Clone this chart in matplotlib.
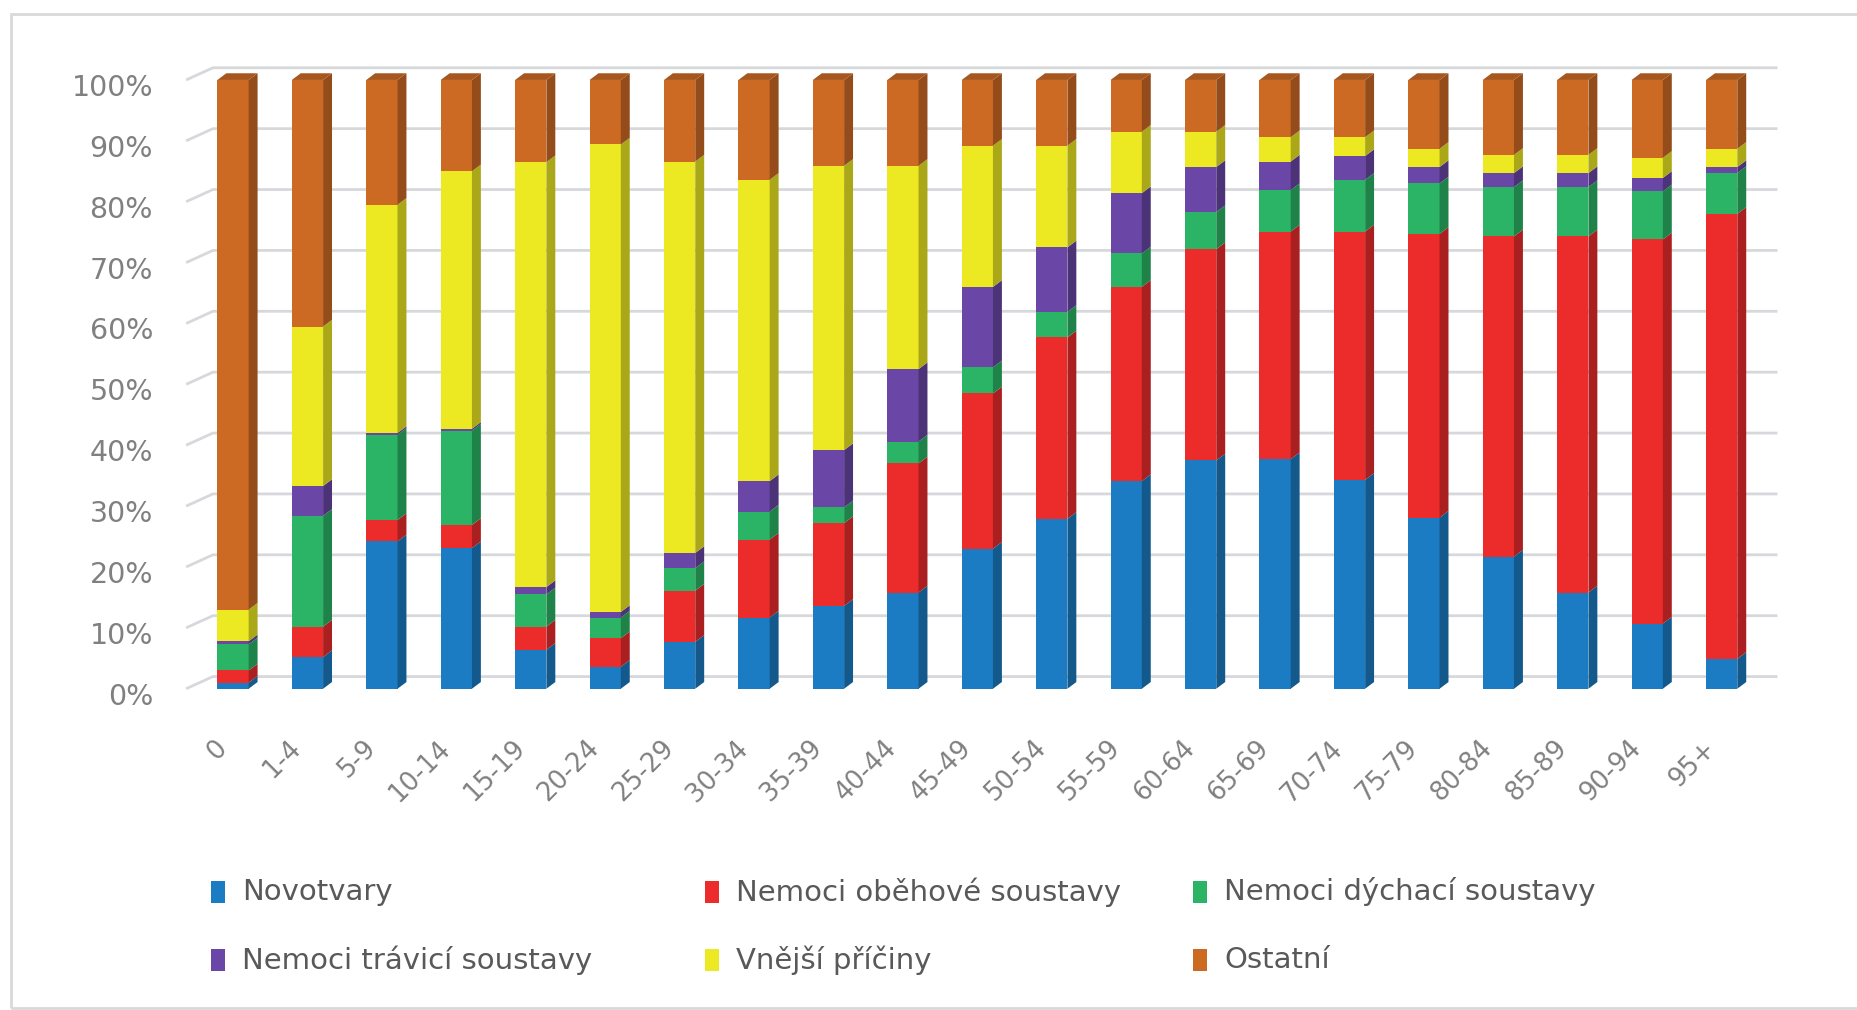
import matplotlib
matplotlib.use("Agg")
import matplotlib.pyplot as plt
import matplotlib.transforms as mtransforms
from matplotlib.patches import Polygon, Rectangle
import numpy as np

# Věkové skupiny a podíly příčin úmrtí (%)
ages = ["0", "1-4", "5-9", "10-14", "15-19", "20-24", "25-29", "30-34", "35-39",
        "40-44", "45-49", "50-54", "55-59", "60-64", "65-69", "70-74", "75-79",
        "80-84", "85-89", "90-94", "95+"]

novotvary = [1.0, 5.2, 24.2, 23.1, 6.4, 3.6, 7.7, 11.7, 13.6, 15.8, 23.0,
             27.9, 34.1, 37.5, 37.7, 34.3, 28.1, 21.7, 15.8, 10.7, 4.9]
obehove = [2.0, 5.0, 3.5, 3.8, 3.8, 4.7, 8.4, 12.8, 13.6, 21.2, 25.5,
           29.8, 31.9, 34.7, 37.4, 40.8, 46.6, 52.6, 58.5, 63.1, 73.1]
dychaci = [4.3, 18.2, 14.0, 15.5, 5.3, 3.4, 3.7, 4.6, 2.6, 3.6, 4.3,
           4.2, 5.5, 6.1, 6.8, 8.5, 8.3, 8.1, 8.1, 7.9, 6.7]
travici = [0.5, 4.9, 0.3, 0.3, 1.2, 0.9, 2.5, 5.0, 9.4, 11.9, 13.2,
           10.6, 9.9, 7.4, 4.7, 3.9, 2.7, 2.3, 2.3, 2.2, 1.0]
vnejsi = [5.2, 26.2, 37.5, 42.3, 69.8, 76.8, 64.3, 49.5, 46.7, 33.4, 23.2,
          16.7, 10.1, 5.8, 4.0, 3.1, 3.0, 3.0, 3.0, 3.3, 3.0]
ostatni = [87.0, 40.5, 20.5, 15.0, 13.5, 10.6, 13.4, 16.4, 14.1, 14.1, 10.8,
           10.8, 8.5, 8.5, 9.4, 9.4, 11.3, 12.3, 12.3, 12.8, 11.3]

series = [novotvary, obehove, dychaci, travici, vnejsi, ostatni]
names = ["Novotvary", "Nemoci oběhové soustavy", "Nemoci dýchací soustavy",
         "Nemoci trávicí soustavy", "Vnější příčiny", "Ostatní"]
colors = ["#1b7cc3", "#ec2b2b", "#2bb466", "#6a47a6", "#ece822", "#cc6a24"]

data = np.array(series, dtype=float)
data = data / data.sum(axis=0) * 100  # 100% skládaný graf

fig = plt.figure(figsize=(18.57, 10.10), dpi=100)
ax = fig.add_axes([0.0854, 0.300, 0.8818, 0.657])
ax.set_xlim(-1.0, 21.0)
ax.set_ylim(-3, 106)

# zadní stěna s mřížkou
for v in range(0, 101, 10):
    ax.plot([-0.63, -0.27, 20.75], [v, v + 2.0, v + 2.0], color="#d6d8db",
            lw=2, zorder=1, solid_capstyle="butt", clip_on=False)

def shade(c, f):
    rgb = np.array(matplotlib.colors.to_rgb(c))
    return tuple(rgb * f)

x = np.arange(len(ages))
w = 0.42
dx, dy = 0.12, 1.1
bottom = np.zeros(len(ages))
for vals, col in zip(data, colors):
    ax.bar(x, vals, width=w, bottom=bottom, color=col, zorder=3, linewidth=0)
    for xi, b, h in zip(x, bottom, vals):
        r = xi + w / 2
        ax.add_patch(Polygon([(r, b), (r + dx, b + dy), (r + dx, b + h + dy), (r, b + h)],
                             closed=True, facecolor=shade(col, 0.72), lw=0, zorder=3))
    bottom += vals

# horní ploška sloupců
for xi, t in zip(x, bottom):
    l, r = xi - w / 2, xi + w / 2
    ax.add_patch(Polygon([(l, t), (r, t), (r + dx, t + dy), (l + dx, t + dy)],
                         closed=True, facecolor=shade(colors[-1], 0.82), lw=0, zorder=3))

for s in ax.spines.values():
    s.set_visible(False)

ax.set_yticks(range(0, 101, 10))
ax.set_yticklabels([f"{v}%" for v in range(0, 101, 10)])
ax.tick_params(axis="y", length=0, pad=4, labelsize=20.5, labelcolor="#808080")
off_y = mtransforms.ScaledTranslation(0, -5 / 100, fig.dpi_scale_trans)
for lab in ax.get_yticklabels():
    lab.set_transform(lab.get_transform() + off_y)

ax.set_xticks(x)
ax.set_xticklabels(ages, rotation=45, ha="right", va="center", rotation_mode="anchor")
ax.tick_params(axis="x", length=0, pad=27, labelsize=18.5, labelcolor="#808080")
off_x = mtransforms.ScaledTranslation(-10 / 100, 0, fig.dpi_scale_trans)
for lab in ax.get_xticklabels():
    lab.set_transform(lab.get_transform() + off_x)

# legenda ve dvou řádcích
W, H = 1857, 1010
col_x = [211, 705, 1193]
row_y = [892, 960]
order = [(0, 0), (0, 1), (0, 2), (1, 0), (1, 1), (1, 2)]
for (r, c), name, col in zip(order, names, colors):
    mx, my = col_x[c], row_y[r]
    fig.patches.append(Rectangle((mx / W, 1 - (my + 11) / H), 14 / W, 22 / H,
                                 transform=fig.transFigure, facecolor=col, lw=0))
    fig.text((mx + 31) / W, 1 - my / H, name, fontsize=21, color="#595959",
             ha="left", va="center")

# rámeček grafu
fig.patches.append(Rectangle((11 / W, 2 / H), 1.0, 1 - 16 / H, transform=fig.transFigure,
                             fill=False, edgecolor="#d9d9d9", lw=2))

fig.savefig("out.png", dpi=100, facecolor="white")
